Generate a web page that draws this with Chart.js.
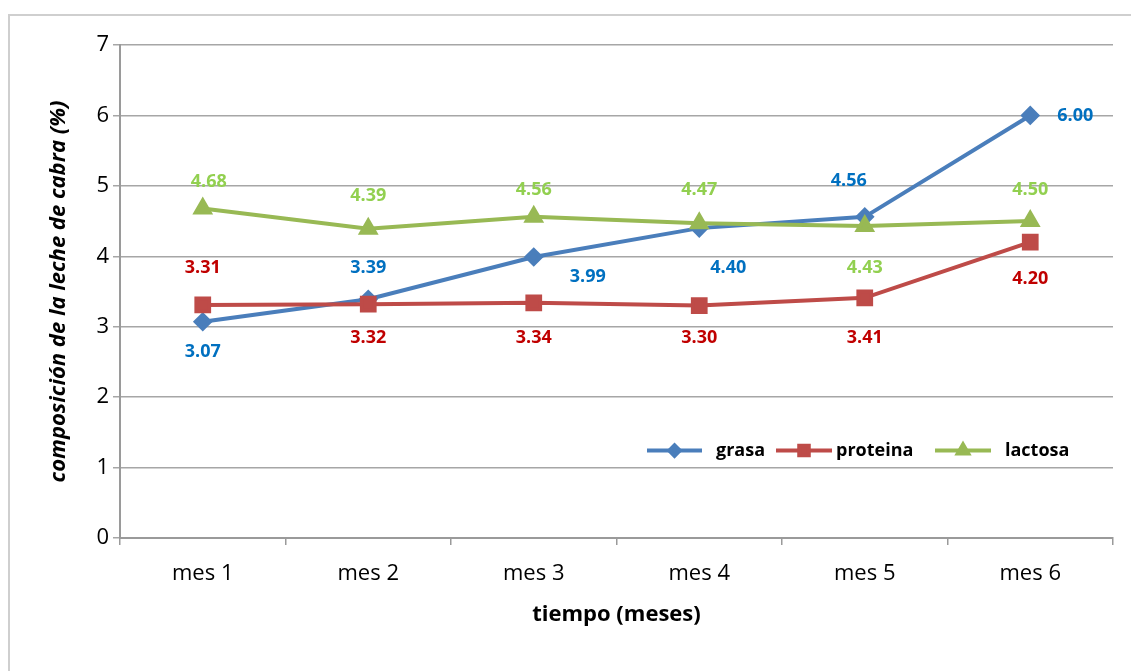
<!doctype html>
<html lang="es">
<head>
<meta charset="utf-8">
<script src="https://cdn.jsdelivr.net/npm/chart.js"></script>
<style>
  html, body { margin: 0; padding: 0; background: #fff; overflow: hidden; }
  #wrap { position: relative; width: 1131px; height: 671px; }
  #marco { position: absolute; left: 8px; top: 14px; width: 1200px; height: 800px;
           border: 2px solid #cfcfcf; pointer-events: none; }
</style>
</head>
<body>
<div id="wrap">
  <canvas id="lineChart" width="1131" height="671"></canvas>
  <div id="marco"></div>
</div>
<script>
  // datos
  const meses = ['mes 1', 'mes 2', 'mes 3', 'mes 4', 'mes 5', 'mes 6'];
  const grasa = [3.07, 3.39, 3.99, 4.40, 4.56, 6.00];
  const proteina = [3.31, 3.32, 3.34, 3.30, 3.41, 4.20];
  const lactosa = [4.68, 4.39, 4.56, 4.47, 4.43, 4.50];
  const yTicks = [0, 1, 2, 3, 4, 5, 6, 7];

  const FONT = "'Open Sans', 'Liberation Sans', sans-serif";

  // donde va cada etiqueta respecto al punto (dx, dy)
  const offsets = [
    [[0, 30], [0, -31], [54, 20], [29, 40], [-16, -36], [45, 0]],
    [[0, -37], [0, 34], [0, 35], [0, 32], [0, 40], [0, 37]],
    [[6, -27], [0, -33], [0, -27], [0, -33], [0, 42], [0, -31]]
  ];
  const labelColors = ['#0070c0', '#c00000', '#92d050'];

  const etiquetas = {
    id: 'etiquetas',
    afterDatasetsDraw(chart) {
      const ctx = chart.ctx;
      ctx.save();
      ctx.font = 'bold 18px ' + FONT;
      ctx.textAlign = 'center';
      ctx.textBaseline = 'middle';
      chart.data.datasets.forEach((ds, i) => {
        const meta = chart.getDatasetMeta(i);
        meta.data.forEach((pt, j) => {
          const o = offsets[i][j];
          ctx.fillStyle = labelColors[i];
          ctx.fillText(ds.data[j].toFixed(2), pt.x + o[0], pt.y + o[1]);
        });
      });
      ctx.restore();
    }
  };

  // leyenda dentro del área de trazado
  const leyenda = {
    id: 'leyenda',
    afterDraw(chart) {
      const ctx = chart.ctx;
      const y = chart.scales.y.getPixelForValue(1) - 17;
      const items = [
        { x0: 647, x1: 702, tx: 716 },
        { x0: 776, x1: 832, tx: 836 },
        { x0: 935, x1: 991, tx: 1005 }
      ];
      ctx.save();
      chart.data.datasets.forEach((ds, i) => {
        const it = items[i];
        ctx.strokeStyle = ds.borderColor;
        ctx.lineWidth = 4;
        ctx.beginPath();
        ctx.moveTo(it.x0, y);
        ctx.lineTo(it.x1, y);
        ctx.stroke();
        ctx.fillStyle = ds.pointBackgroundColor;
        ctx.strokeStyle = ds.pointBackgroundColor;
        Chart.helpers.drawPoint(ctx, {
          pointStyle: ds.pointStyle, radius: ds.pointRadius * 0.75, rotation: 0,
          borderWidth: 1
        }, (it.x0 + it.x1) / 2, y);
        ctx.fillStyle = '#000';
        ctx.font = 'bold 18px ' + FONT;
        ctx.textAlign = 'left';
        ctx.textBaseline = 'middle';
        ctx.fillText(ds.label, it.tx, y);
      });
      ctx.restore();
    }
  };

  const config = {
    type: 'line',
    data: {
      labels: meses,
      datasets: [
        {
          label: 'grasa',
          data: grasa,
          borderColor: '#4a7ebb',
          backgroundColor: '#4a7ebb',
          pointBackgroundColor: '#4a7ebb',
          pointBorderColor: '#4a7ebb',
          pointStyle: 'rectRot',
          pointRadius: 7,
          borderWidth: 4,
          order: 3
        },
        {
          label: 'proteina',
          data: proteina,
          borderColor: '#be4b48',
          backgroundColor: '#be4b48',
          pointBackgroundColor: '#be4b48',
          pointBorderColor: '#be4b48',
          pointStyle: 'rect',
          pointRadius: 9,
          borderWidth: 4,
          order: 2
        },
        {
          label: 'lactosa',
          data: lactosa,
          borderColor: '#98b954',
          backgroundColor: '#98b954',
          pointBackgroundColor: '#98b954',
          pointBorderColor: '#98b954',
          pointStyle: 'triangle',
          pointRadius: 8,
          borderWidth: 4,
          order: 1
        }
      ]
    },
    options: {
      responsive: false,
      animation: false,
      layout: { padding: { top: 45, right: 18, bottom: 0, left: 0 } },
      elements: { line: { tension: 0 } },
      plugins: {
        legend: { display: false },
        tooltip: { enabled: false }
      },
      scales: {
        x: {
          offset: true,
          grid: {
            offset: true,
            drawOnChartArea: false,
            color: '#9a9a9a',
            tickLength: 7,
            lineWidth: 1.5
          },
          border: { color: '#9a9a9a', width: 2 },
          ticks: { color: '#000', font: { family: FONT, size: 22 }, padding: 16 },
          title: {
            display: true,
            text: 'tiempo (meses)',
            color: '#000',
            font: { family: FONT, size: 22, weight: 'bold' },
            padding: { top: 0, bottom: 43 }
          },
          afterFit(s) { s.height = 133; }
        },
        y: {
          min: 0,
          max: 7,
          afterBuildTicks(s) { s.ticks = yTicks.map(v => ({ value: v })); },
          grid: { color: '#a6a6a6', lineWidth: 1.5, tickLength: 7 },
          border: { color: '#9a9a9a', width: 2 },
          ticks: { color: '#000', font: { family: FONT, size: 22 }, padding: 4 },
          title: {
            display: true,
            text: 'composición de la leche de cabra (%)',
            color: '#000',
            font: { family: FONT, size: 22, weight: 'bold', style: 'italic' },
            padding: { top: 46, bottom: 0 }
          },
          afterFit(s) { s.width = 120; }
        }
      }
    },
    plugins: [etiquetas, leyenda]
  };

  new Chart(document.getElementById('lineChart'), config);
</script>
</body>
</html>
